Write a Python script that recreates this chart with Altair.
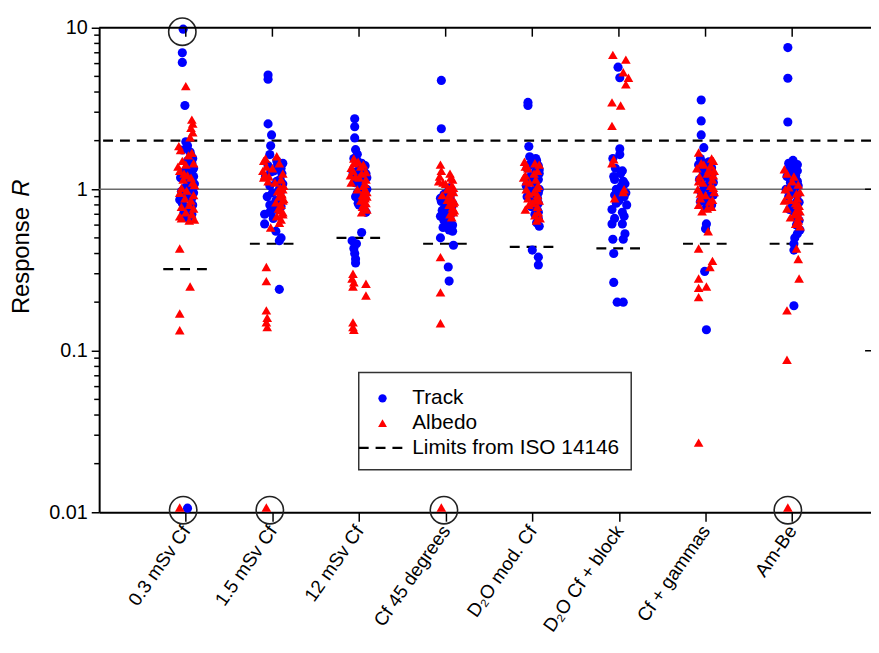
import json
import altair as alt
import pandas as pd

# ---------------- data ----------------
CATEGORIES = ["0.3 mSv Cf", "1.5 mSv Cf", "12 mSv Cf", "Cf 45 degrees",
              "D\u2082O mod. Cf", "D\u2082O Cf + block", "Cf + gammas", "Am-Be"]
LOWER_LIMITS = [0.32, 0.46, 0.50, 0.46, 0.44, 0.43, 0.46, 0.46]
UPPER_LIMIT = [2.0]
REFERENCE = [1.0]
DECADES = [0.01, 0.1, 1, 10]
MINOR = [0.02, 0.03, 0.04, 0.05, 0.06, 0.07, 0.08, 0.09,
         0.2, 0.3, 0.4, 0.5, 0.6, 0.7, 0.8, 0.9,
         2, 3, 4, 5, 6, 7, 8, 9]

# (response R, horizontal jitter in category units)
TRACK_1 = [(9.8,-0.03),(7.0,-0.04),(6.1,-0.04),(3.3,-0.01),(1.97,0.0),(1.86,0.02),(1.75,-0.04),(1.62,0.06),(1.55,0.08),(1.45,0.07),(1.40,0.03),(1.32,0.08),(1.25,0.05),(1.2,0.09),(1.15,0.0),(1.1,0.07),(1.05,0.04),(1.0,0.08),(0.97,-0.05),(0.93,0.06),(0.9,0.02),(0.86,-0.07),(0.82,-0.04),(0.78,0.0),(0.75,0.04),(0.72,-0.02),(0.68,-0.02),(0.66,0.03),(1.35,0.09),(1.18,-0.06),(1.08,0.1),(0.95,0.09),
           (1.7,0.05),(1.5,0.02),(1.28,-0.02),(1.12,0.03),(1.02,-0.01),(0.88,0.07),(0.8,0.08),(0.7,0.07),(0.0106,0.02)]
ALBEDO_1 = [(4.35,0.0),(2.7,0.07),(2.55,0.08),(2.4,0.06),(2.25,0.08),(2.1,0.05),(1.75,-0.06),(1.62,0.03),(1.5,-0.04),(1.42,0.0),(1.3,-0.07),(1.22,0.02),(1.15,-0.03),(1.1,0.08),(1.02,-0.05),(0.98,0.01),(0.92,0.09),(0.88,-0.01),(0.85,0.06),(0.8,0.04),(0.76,0.09),(0.72,0.0),(0.7,0.07),(0.68,-0.07),(0.65,0.1),(0.64,0.04),(1.38,-0.09),(1.25,-0.02),
            (1.85,-0.08),(1.68,0.07),(1.45,0.09),(1.18,0.06),(1.06,0.1),(0.95,-0.07),(0.78,-0.05),(0.66,-0.05),
            (0.43,-0.07),(0.25,0.05),(0.17,-0.07),(0.134,-0.07),(0.0107,-0.07)]
TRACK_2 = [(5.1,-0.05),(4.8,-0.05),(2.54,-0.05),(2.17,-0.01),(1.86,-0.02),(1.64,-0.03),(1.5,0.05),(1.45,0.12),(1.4,-0.05),(1.35,0.1),(1.3,0.02),(1.25,0.11),(1.2,-0.08),(1.12,0.05),(1.05,-0.03),(1.0,0.08),(0.95,0.0),(0.9,-0.06),(0.85,0.04),(0.8,-0.03),(0.75,0.02),(0.7,-0.09),(0.66,0.01),(0.61,-0.09),(0.55,0.04),(0.5,0.1),(0.48,0.08),(0.24,0.08),
           (1.42,0.06),(1.28,-0.02),(1.15,0.09),(1.08,0.12),(0.98,0.1),(0.88,0.09),(0.78,0.1),(0.72,-0.03)]
ALBEDO_2 = [(1.6,0.05),(1.5,-0.1),(1.45,0.08),(1.38,-0.07),(1.3,-0.11),(1.25,0.12),(1.2,-0.04),(1.15,0.1),(1.1,0.03),(1.05,0.13),(1.02,0.09),(1.0,0.12),(0.97,0.06),(0.93,0.11),(0.9,0.08),(0.87,0.13),(0.83,0.04),(0.8,0.1),(0.76,0.07),(0.72,0.12),(0.68,0.05),(0.65,0.1),(0.62,0.08),(0.58,-0.02),(1.18,-0.1),
            (1.55,-0.08),(1.35,0.0),(1.22,-0.09),(1.12,-0.05),(0.95,0.1),(0.85,0.12),(0.74,0.09),(0.7,0.12),
            (0.33,-0.07),(0.27,-0.07),(0.178,-0.07),(0.16,-0.06),(0.15,-0.07),(0.14,-0.06),(0.0107,-0.07)]
TRACK_3 = [(2.73,-0.05),(2.44,-0.05),(2.08,-0.05),(1.76,-0.04),(1.65,-0.02),(1.55,-0.06),(1.45,0.03),(1.4,0.07),(1.32,0.0),(1.25,0.08),(1.2,-0.03),(1.15,0.06),(1.1,-0.05),(1.05,0.01),(1.0,0.09),(0.95,-0.02),(0.9,-0.04),(0.85,0.03),(0.8,0.0),(0.75,0.06),(0.72,0.08),
           (1.5,-0.02),(1.35,0.05),(1.28,-0.07),(1.18,0.09),(1.12,0.02),(0.98,0.05),(0.88,0.07),(0.82,-0.01),
           (0.54,0.03),(0.48,-0.08),(0.46,-0.03),(0.43,-0.06),(0.40,-0.05),(0.37,-0.04),(0.35,-0.04)]
ALBEDO_3 = [(1.55,-0.06),(1.48,-0.01),(1.42,0.05),(1.36,-0.09),(1.3,-0.07),(1.25,0.03),(1.2,-0.04),(1.15,0.08),(1.1,-0.09),(1.05,0.05),(1.0,-0.02),(0.96,0.09),(0.92,0.04),(0.88,0.07),(0.85,0.02),(0.82,0.08),(0.78,0.04),(0.75,0.09),(0.72,0.03),(1.22,-0.1),
            (1.45,-0.06),(1.38,0.02),(1.28,0.08),(1.18,0.0),(1.08,0.07),(0.98,0.06),(0.9,0.09),(0.8,0.05),
            (0.3,-0.07),(0.28,-0.08),(0.265,-0.06),(0.25,-0.07),(0.26,0.08),(0.22,0.08),(0.15,-0.07),(0.14,-0.07),(0.135,-0.06)]
TRACK_4 = [(4.72,-0.05),(2.37,-0.05),(0.97,0.03),(0.93,-0.02),(0.9,0.05),(0.87,0.0),(0.84,-0.05),(0.8,0.03),(0.77,0.07),(0.74,-0.04),(0.71,0.02),(0.68,-0.06),(0.65,0.05),(0.62,0.0),(0.6,0.08),(0.58,-0.03),(0.56,0.04),(0.55,0.08),(0.88,-0.06),
           (1.02,0.05),(0.95,0.07),(0.82,0.08),(0.76,-0.01),(0.7,0.06),(0.64,-0.02),(0.6,0.03),(0.58,0.07),
           (0.5,-0.06),(0.45,0.09),(0.33,0.03),(0.27,0.04)]
ALBEDO_4 = [(1.42,-0.06),(1.25,0.05),(1.2,-0.07),(1.15,0.08),(1.1,-0.03),(1.05,0.07),(1.0,0.02),(0.96,0.09),(0.92,-0.04),(0.88,0.06),(0.84,0.1),(0.8,0.04),(0.77,0.08),(0.74,0.1),(0.7,0.05),(0.67,0.07),(1.12,-0.08),
            (1.3,-0.05),(1.18,0.06),(1.08,0.0),(1.02,0.09),(0.94,0.05),(0.86,0.02),(0.82,0.09),(0.72,0.09),
            (0.38,-0.06),(0.23,-0.06),(0.148,-0.06),(0.0107,-0.05)]
TRACK_5 = [(3.45,-0.05),(3.3,-0.05),(1.84,-0.04),(1.59,-0.03),(1.5,0.05),(1.45,0.0),(1.4,0.07),(1.35,-0.06),(1.3,0.04),(1.25,0.08),(1.2,-0.02),(1.15,0.07),(1.1,0.03),(1.05,-0.07),(1.0,0.08),(0.97,-0.03),(0.93,0.05),(0.9,-0.06),(0.86,0.02),(0.82,0.07),(0.78,-0.01),(0.74,0.06),(0.7,0.03),(0.66,0.07),(0.62,0.05),(0.59,0.08),
           (1.55,0.04),(1.42,-0.03),(1.32,0.08),(1.22,0.05),(1.12,-0.05),(1.02,0.04),(0.95,0.07),(0.88,0.06),(0.8,0.04),(0.72,0.07),
           (0.42,0.0),(0.38,0.07),(0.34,0.07)]
ALBEDO_5 = [(1.48,-0.09),(1.42,0.08),(1.35,-0.05),(1.3,0.06),(1.22,-0.08),(1.15,0.04),(1.1,-0.03),(1.05,0.07),(1.0,-0.07),(0.96,0.02),(0.92,0.06),(0.88,-0.05),(0.85,0.08),(0.82,0.0),(0.78,0.06),(0.75,-0.08),(0.72,0.07),(0.69,0.03),(0.66,0.09),(0.64,0.05),(1.18,-0.1),
            (1.45,0.03),(1.38,-0.08),(1.25,0.02),(1.12,-0.07),(1.02,0.05),(0.94,-0.04),(0.86,0.04),(0.8,-0.04)]
TRACK_6 = [(5.7,-0.01),(4.9,0.01),(1.78,0.01),(1.64,0.01),(1.55,-0.07),(1.35,-0.04),(1.25,0.02),(1.2,-0.06),(1.12,0.05),(1.05,0.03),(1.0,-0.03),(0.95,0.08),(0.9,0.06),(0.85,0.0),(0.8,0.09),(0.75,-0.08),(0.72,0.04),
           (1.3,0.04),(1.15,-0.05),(1.08,0.07),(0.98,0.02),(0.92,-0.05),(0.82,-0.03),(0.68,0.06),(0.66,-0.05),
           (0.61,-0.08),(0.61,0.04),(0.53,0.07),(0.49,0.05),(0.49,-0.07),(0.40,-0.06),(0.265,-0.06),(0.2,-0.02),(0.2,0.05)]
ALBEDO_6 = [(6.8,-0.07),(6.35,0.08),(5.3,0.05),(4.9,0.11),(4.46,0.08),(3.45,-0.08),(3.3,0.02),(2.47,-0.08),(1.53,-0.06),(1.45,-0.08),(1.0,0.06),(0.96,0.05),(0.88,-0.05)]
TRACK_7 = [(3.57,-0.05),(2.65,-0.05),(2.17,-0.05),(1.81,-0.02),(1.55,-0.06),(1.48,0.04),(1.42,-0.08),(1.36,0.07),(1.3,-0.03),(1.25,0.08),(1.2,0.02),(1.15,-0.07),(1.1,0.09),(1.05,-0.02),(1.0,0.05),(0.96,-0.05),(0.92,0.09),(0.88,0.03),(0.84,-0.06),(0.8,0.07),(0.77,0.01),
           (1.45,0.0),(1.38,0.04),(1.27,0.06),(1.18,-0.04),(1.12,0.05),(1.02,0.02),(0.94,0.06),(0.86,-0.02),
           (0.61,0.01),(0.57,0.0),(0.31,-0.01),(0.135,0.01)]
ALBEDO_7 = [(1.69,-0.08),(1.5,0.09),(1.45,-0.05),(1.4,0.06),(1.35,-0.1),(1.3,0.1),(1.25,0.02),(1.2,-0.07),(1.15,0.08),(1.1,-0.03),(1.05,0.06),(1.0,-0.09),(0.96,0.1),(0.92,0.0),(0.88,-0.06),(0.84,0.05),(0.8,-0.08),(0.76,0.02),(0.73,-0.04),
            (1.55,0.07),(1.42,-0.02),(1.32,0.04),(1.22,0.09),(1.12,-0.08),(1.02,0.09),(0.94,-0.06),(0.86,0.08),(0.78,0.07),
            (0.55,0.03),(0.43,-0.08),(0.36,0.08),(0.33,0.05),(0.28,-0.08),(0.25,0.01),(0.245,-0.08),(0.215,-0.08),(0.027,-0.08)]
TRACK_8 = [(7.54,-0.05),(4.87,-0.05),(2.61,-0.05),(1.51,0.01),(1.45,-0.04),(1.4,0.03),(1.35,-0.03),(1.3,0.06),(1.25,0.0),(1.2,-0.06),(1.15,0.04),(1.1,-0.02),(1.05,0.07),(1.0,-0.07),(0.95,0.02),(0.9,-0.04),(0.85,0.06),(0.8,0.0),(0.75,-0.03),(0.7,0.06),
           (1.42,0.06),(1.32,0.0),(1.22,0.04),(1.12,0.06),(1.02,0.03),(0.92,0.06),(0.83,0.08),(0.72,0.03),(0.66,0.05),
           (0.64,0.08),(0.6,0.05),(0.56,0.09),(0.53,0.06),(0.5,0.03),(0.46,0.02),(0.42,0.02),(0.19,0.02)]
ALBEDO_8 = [(1.33,-0.09),(1.2,0.02),(1.07,0.07),(1.0,-0.08),(0.96,0.09),(0.92,-0.04),(0.88,0.06),(0.85,-0.09),(0.82,0.04),(0.79,0.08),(0.76,-0.06),(0.73,0.09),(0.7,0.03),(0.67,-0.02),(0.64,0.07),(0.61,0.04),(0.59,0.09),
            (1.25,-0.06),(1.12,0.0),(1.03,-0.04),(0.94,0.05),(0.86,-0.03),(0.8,0.06),(0.74,0.05),(0.68,0.08),(0.62,0.06),
            (0.43,0.05),(0.37,0.07),(0.28,0.08),(0.178,-0.06),(0.088,-0.06),(0.0107,-0.05)]

TRACK = [TRACK_1, TRACK_2, TRACK_3, TRACK_4, TRACK_5, TRACK_6, TRACK_7, TRACK_8]
ALBEDO = [ALBEDO_1, ALBEDO_2, ALBEDO_3, ALBEDO_4, ALBEDO_5, ALBEDO_6, ALBEDO_7, ALBEDO_8]

# off-scale points marked with open circles: (category, R, jitter)
CIRCLED = [(1, 9.45, -0.04), (1, 0.0103, -0.03), (2, 0.0103, -0.03),
           (4, 0.0103, -0.02), (8, 0.0103, -0.05)]

# ---------------- tables ----------------
rows = []
for i in range(8):
    for r, dx in TRACK[i]:
        rows.append({"series": "Track", "cat": i + 1, "R": r, "xpos": i + 1 + dx})
    for r, dx in ALBEDO[i]:
        rows.append({"series": "Albedo", "cat": i + 1, "R": r, "xpos": i + 1 + dx})
points = pd.DataFrame(rows)

circ = pd.DataFrame([{"R": r, "xpos": c + dx} for c, r, dx in CIRCLED])
lower = pd.DataFrame({"cat": list(range(1, 9)), "R": LOWER_LIMITS})
cats = pd.DataFrame({"xpos": list(range(1, 9))})
one = pd.DataFrame({"k": [0]})

# ---------------- layout ----------------
W, H = 779, 489
XMAX = 8.91
FONT = "Liberation Sans"

xscale = alt.Scale(domain=[0, XMAX], nice=False, zero=False)
yscale = alt.Scale(type="log", domain=[0.01, 10], nice=False)

label_expr = json.dumps(CATEGORIES) + "[datum.value - 1]"
xaxis = alt.Axis(values=list(range(1, 9)), labelExpr=label_expr, title=None, grid=False,
                 tickSize=9, tickWidth=1.5, tickColor="black", domainColor="black",
                 domainWidth=2, labelAngle=305, labelAlign="right", labelBaseline="middle",
                 labelFontSize=19, labelFont=FONT, labelColor="black", labelPadding=6,
                 labelOverlap=False)
yaxis = alt.Axis(values=DECADES, format="~g", title=None, grid=False,
                 tickSize=8, tickWidth=1.5, tickColor="black", domainColor="black",
                 domainWidth=2, labelFontSize=20, labelFont=FONT, labelColor="black",
                 labelPadding=4)


def X(field="xpos"):
    return alt.X(f"{field}:Q", scale=xscale, axis=xaxis)


def Y(field="R"):
    return alt.Y(f"{field}:Q", scale=yscale, axis=yaxis)


ref_line = alt.Chart(pd.DataFrame({"R": REFERENCE})).mark_rule(
    color="#6b6b6b", strokeWidth=1.6).encode(y=Y())
upper_line = alt.Chart(pd.DataFrame({"R": UPPER_LIMIT})).mark_rule(
    color="black", strokeWidth=2.2, strokeDash=[10, 7]).encode(y=Y())
lower_lines = alt.Chart(lower).mark_rule(
    color="black", strokeWidth=2.2, strokeDash=[10, 7]).transform_calculate(
    xlo="datum.cat - 0.26", xhi="datum.cat + 0.26").encode(
    x=X("xlo"), x2="xhi:Q", y=Y())

pts = alt.Chart(points).mark_point(filled=True, opacity=1, strokeWidth=0).encode(
    x=X(), y=Y(),
    color=alt.Color("series:N", scale=alt.Scale(domain=["Track", "Albedo"],
                                                range=["#0000ff", "#ff0000"]), legend=None),
    shape=alt.Shape("series:N", scale=alt.Scale(domain=["Track", "Albedo"],
                                                range=["circle", "triangle-up"]), legend=None),
    size=alt.Size("series:N", scale=alt.Scale(domain=["Track", "Albedo"],
                                              range=[85, 95]), legend=None),
)

circles = alt.Chart(circ).mark_point(shape="circle", filled=False, color="#222222",
                                     strokeWidth=1.6, size=760, opacity=1).encode(x=X(), y=Y())

minor_ticks = alt.Chart(pd.DataFrame({"R": MINOR})).mark_rule(
    color="black", strokeWidth=1.5).encode(y=Y(), x=alt.value(0), x2=alt.value(-5))
right_ticks = alt.Chart(pd.DataFrame({"R": [0.1, 1]})).mark_rule(
    color="black", strokeWidth=1.5).encode(y=Y(), x=alt.value(W - 6), x2=alt.value(W))
top_frame = alt.Chart(one).mark_rule(color="black", strokeWidth=2).encode(
    x=alt.value(0), x2=alt.value(W), y=alt.value(0))
top_ticks = alt.Chart(cats).mark_rule(color="black", strokeWidth=1.5).encode(
    x=X(), y=alt.value(0), y2=alt.value(9))

# y title: "Response R" with italic R
ytitle1 = alt.Chart(one).mark_text(angle=270, fontSize=24, font=FONT, color="black",
                                   align="center", baseline="middle").encode(
    x=alt.value(-78), y=alt.value(235), text=alt.value("Response"))
ytitle2 = alt.Chart(one).mark_text(angle=270, fontSize=24, font=FONT, color="black",
                                   fontStyle="italic", align="center", baseline="middle").encode(
    x=alt.value(-78), y=alt.value(162), text=alt.value("R"))

# legend box
LX, LY = 262, 348
leg_box = alt.Chart(one).mark_rect(fill="white", stroke="#333333", strokeWidth=1.5).encode(
    x=alt.value(LX), x2=alt.value(LX + 275), y=alt.value(LY), y2=alt.value(LY + 98))
leg_track = alt.Chart(one).mark_point(shape="circle", filled=True, color="#0000ff",
                                      size=70, opacity=1).encode(
    x=alt.value(LX + 24), y=alt.value(LY + 26))
leg_albedo = alt.Chart(one).mark_point(shape="triangle-up", filled=True, color="#ff0000",
                                       size=80, opacity=1).encode(
    x=alt.value(LX + 24), y=alt.value(LY + 51))
leg_dash = alt.Chart(one).mark_rule(color="black", strokeWidth=2.2, strokeDash=[10, 7]).encode(
    x=alt.value(LX), x2=alt.value(LX + 46), y=alt.value(LY + 76))
leg_texts = [
    alt.Chart(one).mark_text(align="left", baseline="middle", fontSize=21, font=FONT,
                             color="black").encode(
        x=alt.value(LX + 54), y=alt.value(LY + dy), text=alt.value(t))
    for t, dy in [("Track", 26), ("Albedo", 51), ("Limits from ISO 14146", 76)]
]

chart = alt.layer(
    ref_line, upper_line, lower_lines, pts, circles,
    minor_ticks, right_ticks, top_frame, top_ticks,
    ytitle1, ytitle2,
    leg_box, leg_track, leg_albedo, leg_dash, *leg_texts,
).properties(
    width=W, height=H,
    padding={"left": 92, "top": 17, "right": 0, "bottom": 130},
    autosize=alt.AutoSizeParams(type="none"),
    background="white",
).configure_view(stroke=None)

chart.save("out.html", embed_options={"renderer": "svg", "actions": False})
